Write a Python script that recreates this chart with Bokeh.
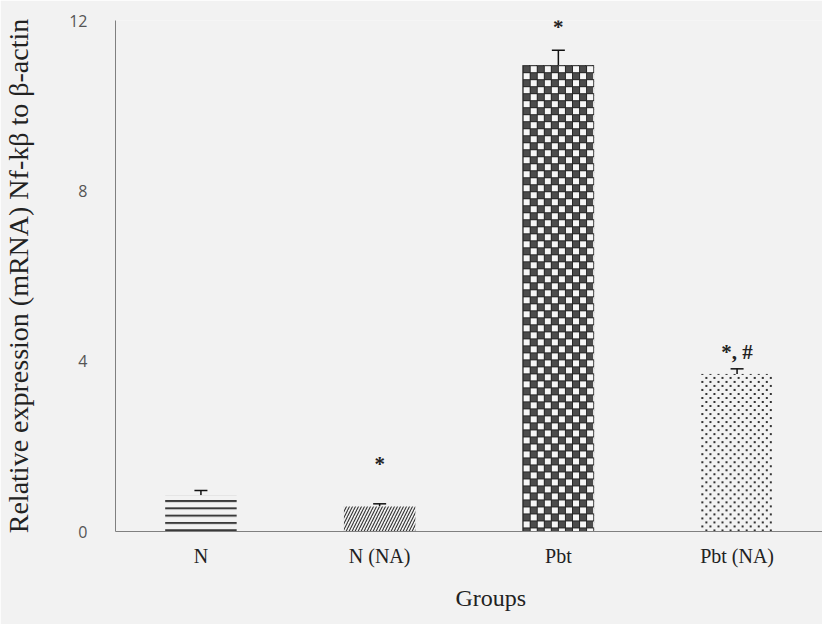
import numpy as np
from bokeh.plotting import figure
from bokeh.models import (ColumnDataSource, FactorRange, Range1d, Whisker, TeeHead,
                          LabelSet, Title)
from bokeh.embed import file_html
from bokeh.resources import INLINE

# ---- data ----
groups = ["N", "N (NA)", "Pbt", "Pbt (NA)"]
means = [0.85, 0.59, 10.95, 3.70]
errors = [0.11, 0.06, 0.35, 0.12]
sig_labels = ["", "*", "*", "*, #"]
sig_y = [0.0, 1.68, 11.95, 4.3]
y_ticks = [0, 4, 8, 12]
x_title = "Groups"
y_title = "Relative expression (mRNA) Nf-k\u03b2 to \u03b2-actin"

# ---- layout / styles ----
W, H = 822, 624
BL, BT, BB, BR = 111, 20, 93, 0
FRAME_W, FRAME_H = W - BL - BR, H - BT - BB
Y_MAX = 12
BAR_W = 0.4
PAD = -0.011
BG = "#f2f2f2"

n = len(groups)
span = n * (1 + PAD)
px_x = FRAME_W / span
px_y = FRAME_H / Y_MAX


def rgba(hexcol, a=255):
    h = hexcol.lstrip("#")
    r, g, b = int(h[0:2], 16), int(h[2:4], 16), int(h[4:6], 16)
    return np.uint32(r | (g << 8) | (b << 16) | (a << 24))


def checker_texture(w, h, cell=7):
    rr, cc = np.mgrid[0:h, 0:w]
    img = np.full((h, w), rgba("#f6f6f6"), dtype=np.uint32)
    dark = ((rr // cell + cc // cell) % 2) == 0
    img[dark] = rgba("#4c4c4c")
    img[(rr % cell == 0) | (cc % cell == 0)] = rgba("#262626")
    return img[::-1]


def dot_texture(w, h, step=8):
    rr, cc = np.mgrid[0:h, 0:w]
    img = np.zeros((h, w), dtype=np.uint32)
    a = (rr % step < 2) & (cc % step < 2)
    b = ((rr + step // 2) % step < 2) & ((cc + step // 2) % step < 2)
    img[a | b] = rgba("#333333")
    return img[::-1]


p = figure(
    x_range=FactorRange(*groups, range_padding=PAD),
    y_range=Range1d(0, Y_MAX),
    width=W, height=H,
    output_backend="svg", toolbar_location=None,
    min_border_left=BL, min_border_top=BT, min_border_bottom=BB, min_border_right=BR,
    background_fill_color=BG, border_fill_color=BG,
)
p.outline_line_color = None
p.grid.grid_line_color = None

styles = [
    dict(hatch_pattern="horizontal_line", hatch_scale=7.3, hatch_weight=2, hatch_color="#3a3a3a"),
    dict(hatch_pattern="right_diagonal_line", hatch_scale=6, hatch_weight=1.1, hatch_color="#333333"),
    dict(hatch_pattern="cross", hatch_scale=7, hatch_weight=1, hatch_color="#222222",
         fill_color="#a0a0a0"),
    dict(),
]

for i, g in enumerate(groups):
    st = dict(fill_color=BG)
    st.update(styles[i])
    src = ColumnDataSource(dict(x=[g], top=[means[i]]))
    p.vbar(x="x", top="top", width=BAR_W, source=src, line_color=None, **st)

# textured fills for the checker (Pbt) and dotted (Pbt (NA)) bars
for g, maker in (("Pbt", checker_texture), ("Pbt (NA)", dot_texture)):
    i = groups.index(g)
    wpx = int(round(BAR_W * px_x))
    hpx = int(round(means[i] * px_y))
    p.image_rgba(image=[maker(wpx, hpx)], x=i + 0.5 - BAR_W / 2, y=0,
                 dw=BAR_W, dh=means[i])

err_src = ColumnDataSource(dict(
    x=groups,
    lower=means,
    upper=[m + e for m, e in zip(means, errors)],
))
p.add_layout(Whisker(base="x", lower="lower", upper="upper", source=err_src,
                     line_color="#111111", line_width=1.5,
                     upper_head=TeeHead(size=13, line_color="#111111", line_width=1.5),
                     lower_head=None))

sig_src = ColumnDataSource(dict(x=groups, y=sig_y, t=sig_labels))
p.add_layout(LabelSet(x="x", y="y", text="t", source=sig_src, text_align="center",
                      text_baseline="middle", y_offset=-4, text_font="Liberation Serif",
                      text_font_size="21px", text_font_style="bold", text_color="#222222"))

# x-axis title, slightly right of centre as in the original
p.add_layout(Title(text=x_title, align="left", offset=340, standoff=27,
                   vertical_align="bottom",
                   text_font="Liberation Serif", text_font_size="24px",
                   text_font_style="normal", text_color="#222222"), "below")

# axes
p.yaxis.ticker = y_ticks
p.yaxis.axis_label = y_title
p.yaxis.axis_label_text_font = "Liberation Serif"
p.yaxis.axis_label_text_font_size = "28px"
p.yaxis.axis_label_text_font_style = "normal"
p.yaxis.axis_label_text_color = "#222222"
p.yaxis.axis_label_standoff = 32
p.yaxis.major_label_text_font = "Open Sans"
p.yaxis.major_label_text_font_size = "16px"
p.yaxis.major_label_text_color = "#555555"
p.yaxis.major_label_standoff = 22

p.xaxis.major_label_text_font = "Liberation Serif"
p.xaxis.major_label_text_font_size = "20px"
p.xaxis.major_label_text_color = "#222222"
p.xaxis.major_label_standoff = 7

for ax in (p.xaxis, p.yaxis):
    ax.axis_line_color = "#808080"
    ax.axis_line_width = 1
    ax.major_tick_line_color = None
    ax.minor_tick_line_color = None

open("out.html", "w").write(file_html(p, INLINE))
